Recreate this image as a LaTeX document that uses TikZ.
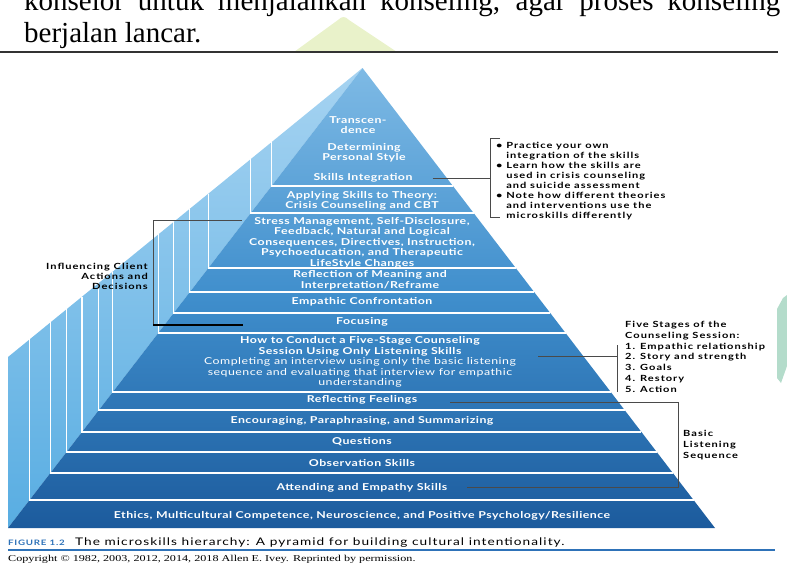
\documentclass[tikz,border=0pt]{standalone}
\usepackage{fontspec}
\setmainfont{Liberation Serif}
\newfontfamily\pyrfont{Lato}[FakeStretch=1.3, LetterSpace=5]
\newfontfamily\notefont{Lato}[FakeStretch=1.3, LetterSpace=12]
\newfontfamily\capfont{Lato}[FakeStretch=1.3, LetterSpace=10]
\newfontfamily\copyfont{Liberation Serif}[FakeStretch=1.35]
\usetikzlibrary{positioning,calc}

\definecolor{sidetop}{HTML}{A6D3F1}
\definecolor{sidebot}{HTML}{58ADE2}
\definecolor{facetop}{HTML}{7EBAE5}
\definecolor{facemid}{HTML}{3F8ECC}
\definecolor{facebot}{HTML}{1C5B9D}
\definecolor{notegray}{HTML}{4A4A4A}
\definecolor{capblue}{HTML}{2E72B8}
\definecolor{leafgreen}{HTML}{E9F2CA}
\definecolor{mintgreen}{HTML}{B4DCCB}

\tikzset{
  band/.style={text=white, font=\pyrfont\bfseries\fontsize{9.5}{10.5}\selectfont, align=center, inner sep=0pt},
  note/.style={text=black, font=\notefont\bfseries\fontsize{8.5}{10}\selectfont, inner sep=0pt},
  stepline/.style={white, line width=1.1pt},
  noteline/.style={notegray, line width=1pt},
  pagetext/.style={anchor=base west, inner sep=0pt, font=\fontsize{29}{33}\selectfont}
}

\begin{document}
\begin{tikzpicture}[x=1pt,y=-1pt]
  \useasboundingbox (0,0) rectangle (787,563);

  \fill[leafgreen] (294,52) -- (338,20) .. controls (342,16) and (345,16) .. (349,20) -- (397,52) -- cycle;
  \fill[mintgreen] (787,295) -- (783,298) -- (777,309) -- (777,378) -- (781,383) -- (787,366) -- cycle;

  \node (line1) [pagetext] at (24,10) {\makebox[756pt][s]{konselor untuk menjalankan konseling, agar proses konseling}};
  \node (line2) [pagetext] at (24,42) {berjalan lancar.};
  \draw[black!80, line width=1.5pt] (0,52) -- (778,52);

  % pyramid body
  \coordinate (apex) at (362.5,68);
  \coordinate (outl) at (8,357);
  \coordinate (botl) at (8,528);
  \coordinate (botr) at (715,528);
  \shade[top color=sidetop, bottom color=sidebot] (apex) -- (outl) -- (botl) -- cycle;
  \shade[top color=facetop, bottom color=facebot, middle color=facemid] (apex) -- (botl) -- (botr) -- cycle;
  \foreach \t in {186,213,268,292,313,333,392,410,432,452,473,500} {
    \pgfmathsetmacro\lx{362.5-(\t-68)/1.2976}
    \pgfmathsetmacro\ly{68+(362.5-\lx)*0.8152}
    \pgfmathsetmacro\rx{362.5+(\t-68)*0.7663}
    \draw[stepline] (\lx,\ly) -- (\lx,\t) -- (\rx,\t);
  }

  \node (transc) [band] at (358,125) {Transcen-\\dence};
  \node (persstyle) [band] at (364,153) {Determining\\Personal Style};
  \node (integ) [band] at (363,178) {Skills Integration};
  \node (theory) [band] at (362,201) {Applying Skills to Theory:\\Crisis Counseling and CBT};
  \node (stress) [band] at (362,242.5) {Stress Management, Self-Disclosure,\\Feedback, Natural and Logical\\Consequences, Directives, Instruction,\\Psychoeducation, and Therapeutic\\LifeStyle Changes};
  \node (meaning) [band] at (370,280.5) {Reflection of Meaning and\\Interpretation/Reframe};
  \node (confront) [band] at (362,302) {Empathic Confrontation};
  \node (focus) [band] at (362,322) {Focusing};
  \node (fivestage) [band] at (360,362) {How to Conduct a Five-Stage Counseling\\Session Using Only Listening Skills\\{\mdseries Completing an interview using only the basic listening}\\{\mdseries sequence and evaluating that interview for empathic}\\{\mdseries understanding}};
  \node (feelings) [band] at (362,400) {Reflecting Feelings};
  \node (encourage) [band] at (362,421) {Encouraging, Paraphrasing, and Summarizing};
  \node (questions) [band] at (362,442) {Questions};
  \node (observe) [band] at (362,463) {Observation Skills};
  \node (attend) [band] at (362,488) {Attending and Empathy Skills};
  \node (ethics) [band] at (362,516) {Ethics, Multicultural Competence, Neuroscience, and Positive Psychology/Resilience};

  % skills integration notes
  \node (integnotes) [note, anchor=north west, align=left] at (496,142) {\textbullet{} Practice your own\\\phantom{\textbullet{} }integration of the skills\\\textbullet{} Learn how the skills are\\\phantom{\textbullet{} }used in crisis counseling\\\phantom{\textbullet{} }and suicide assessment\\\textbullet{} Note how different theories\\\phantom{\textbullet{} }and interventions use the\\\phantom{\textbullet{} }microskills differently};
  \coordinate (integbr) at (490,178);
  \draw[noteline] (500,138) -- (490,138) -- (490,217) -- (500,217);
  \draw[noteline] ($(integ.east)+(20,0)$) -- (integbr);

  % influencing
  \node (influence) [note, anchor=east, align=right] at (148,276) {Influencing Client\\Actions and\\Decisions};
  \draw[noteline] (242,220) -- (153,220) -- (153,325);
  \draw[black, line width=1.5pt] (153,325) -- (243,325);

  % five stages
  \node (stages) [note, anchor=north west, align=left, font=\notefont\bfseries\fontsize{8.5}{10.8}\selectfont] at (625,321) {Five Stages of the\\Counseling Session:\\1. Empathic relationship\\2. Story and strength\\3. Goals\\4. Restory\\5. Action};
  \coordinate (stagesbr) at (617,356);
  \draw[noteline] (617,345) -- (617,392);
  \draw[noteline] ($(fivestage.east)+(22,-6)$) -- (stagesbr);

  % basic listening sequence
  \node (basic) [note, anchor=west, align=left, font=\notefont\bfseries\fontsize{8.5}{11}\selectfont] at (683,445) {Basic\\Listening\\Sequence};
  \coordinate (basictop) at (678,402);
  \coordinate (basicbot) at (678,487);
  \draw[noteline] ($(feelings.east)+(33,2)$) -- (basictop) -- (basicbot) -- ($(attend.east)+(20,-1)$);

  % caption
  \node (figno) [anchor=base west, inner sep=0pt, text=capblue, font=\capfont\bfseries\fontsize{7.5}{9}\selectfont] at (8,545) {FIGURE 1.2};
  \node (figcap) [anchor=base west, inner sep=0pt, font=\capfont\fontsize{10.5}{12}\selectfont] at (75,545) {The microskills hierarchy: A pyramid for building cultural intentionality.};
  \draw[capblue, line width=1.3pt] (8,550) -- (775,550);
  \node (copyr) [anchor=base west, inner sep=0pt, font=\copyfont\fontsize{9}{10}\selectfont] at (8,561) {Copyright \textcopyright{} 1982, 2003, 2012, 2014, 2018 Allen E. Ivey. Reprinted by permission.};
\end{tikzpicture}
\end{document}
